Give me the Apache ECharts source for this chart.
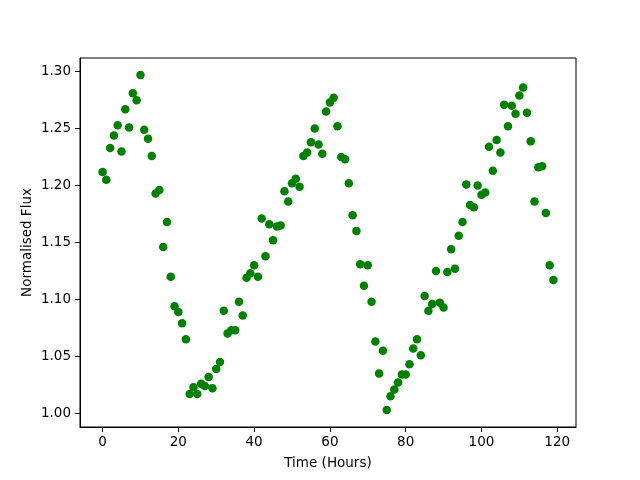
<!DOCTYPE html>
<html>
<head>
<meta charset="utf-8">
<script src="https://cdn.jsdelivr.net/npm/echarts@6/dist/echarts.min.js"></script>
<style>
  html, body { margin: 0; padding: 0; background: #fff; }
  #chart { width: 640px; height: 480px; }
</style>
</head>
<body>
<div id="chart"></div>
<script>
// Hours of observation (one reading per hour)
const hours = Array.from({ length: 120 }, (_, i) => i);

// Normalised flux, one value per hour
const flux = [
  1.212, 1.205, 1.233, 1.244, 1.253, 1.230, 1.267, 1.251, 1.281, 1.275,
  1.297, 1.249, 1.241, 1.226, 1.193, 1.196, 1.146, 1.168, 1.120, 1.094,
  1.089, 1.079, 1.065, 1.017, 1.023, 1.017, 1.026, 1.024, 1.032, 1.022,
  1.039, 1.045, 1.090, 1.070, 1.073, 1.073, 1.098, 1.086, 1.119, 1.123,
  1.130, 1.120, 1.171, 1.138, 1.166, 1.152, 1.164, 1.165, 1.195, 1.186,
  1.202, 1.206, 1.199, 1.226, 1.229, 1.238, 1.250, 1.236, 1.228, 1.265,
  1.273, 1.277, 1.252, 1.225, 1.223, 1.202, 1.174, 1.160, 1.131, 1.112,
  1.130, 1.098, 1.063, 1.035, 1.055, 1.003, 1.015, 1.021, 1.027, 1.034,
  1.034, 1.043, 1.057, 1.065, 1.051, 1.103, 1.090, 1.096, 1.125, 1.097,
  1.093, 1.124, 1.144, 1.127, 1.156, 1.168, 1.201, 1.183, 1.181, 1.200,
  1.192, 1.194, 1.234, 1.213, 1.240, 1.229, 1.271, 1.252, 1.270, 1.263,
  1.279, 1.286, 1.264, 1.239, 1.186, 1.216, 1.217, 1.176, 1.130, 1.117
];

const xTicks = [0, 20, 40, 60, 80, 100, 120];
const yTicks = [1.0, 1.05, 1.1, 1.15, 1.2, 1.25, 1.3];

const font = "DejaVu Sans";

const chart = echarts.init(document.getElementById("chart"), null, { renderer: "canvas" });

chart.setOption({
  animation: false,
  textStyle: { fontFamily: font },
  grid: {
    left: 80,
    right: 64,
    top: 58,
    bottom: 53,
    show: true,
    borderColor: "#000",
    borderWidth: 1,
    backgroundColor: "#fff",
  },
  xAxis: {
    type: "value",
    min: -5.95,
    max: 124.95,
    name: "Time (Hours)",
    nameLocation: "middle",
    nameGap: 29,
    nameMoveOverlap: false,
    nameTextStyle: { color: "#000", fontSize: 13.5, fontFamily: font },
    axisLine: { show: true, onZero: false, lineStyle: { color: "#000", width: 1 } },
    axisTick: { show: true, length: 5, customValues: xTicks, lineStyle: { color: "#000" } },
    axisLabel: { customValues: xTicks, color: "#000", fontSize: 13.5, margin: 8, fontFamily: font },
    splitLine: { show: false },
  },
  yAxis: {
    type: "value",
    min: 0.988,
    max: 1.312,
    name: "Normalised Flux",
    nameLocation: "middle",
    nameGap: 46,
    nameMoveOverlap: false,
    nameTextStyle: { color: "#000", fontSize: 13.5, fontFamily: font },
    axisLine: { show: true, onZero: false, lineStyle: { color: "#000", width: 1 } },
    axisTick: { show: true, length: 5, customValues: yTicks, lineStyle: { color: "#000" } },
    axisLabel: {
      customValues: yTicks,
      color: "#000",
      fontSize: 13.5,
      margin: 9,
      fontFamily: font,
      formatter: (v) => v.toFixed(2),
    },
    splitLine: { show: false },
  },
  series: [
    {
      type: "scatter",
      data: hours.map((h, i) => [h, flux[i]]),
      symbol: "circle",
      symbolSize: 8.5,
      itemStyle: { color: "#008000", opacity: 1 },
    },
  ],
});
</script>
</body>
</html>
